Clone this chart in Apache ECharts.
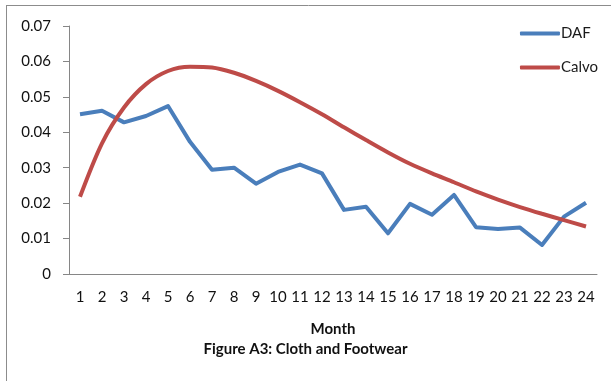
<!DOCTYPE html>
<html>
<head>
<meta charset="utf-8">
<script src="https://cdn.jsdelivr.net/npm/echarts@6/dist/echarts.min.js"></script>
<style>
  html, body { margin: 0; padding: 0; background: #fff; }
  #chart { width: 611px; height: 381px; }
</style>
</head>
<body>
<div id="chart"></div>
<script>
// Months on the x axis
const months = ['1','2','3','4','5','6','7','8','9','10','11','12',
                '13','14','15','16','17','18','19','20','21','22','23','24'];

// DAF estimates per month
const dafValues = [0.0451, 0.0461, 0.0428, 0.0446, 0.0474, 0.0373, 0.0294, 0.0300,
                   0.0255, 0.0288, 0.0309, 0.0284, 0.0181, 0.0190, 0.0115, 0.0198,
                   0.0167, 0.0223, 0.0132, 0.0127, 0.0131, 0.0082, 0.0162, 0.0201];

// Calvo estimates per month
const calvoValues = [0.0218, 0.0369, 0.0470, 0.0536, 0.0573, 0.0585, 0.0583, 0.0568,
                     0.0545, 0.0517, 0.0485, 0.0451, 0.0414, 0.0378, 0.0343, 0.0311,
                     0.0284, 0.0259, 0.0233, 0.0210, 0.0189, 0.0170, 0.0152, 0.0134];

// Y axis tick labels
const yTickLabels = ['0', '0.01', '0.02', '0.03', '0.04', '0.05', '0.06', '0.07'];

const FONT = 'Lato, "Open Sans", sans-serif';
const chart = echarts.init(document.getElementById('chart'), null, { renderer: 'canvas' });

chart.setOption({
  animation: false,
  backgroundColor: '#ffffff',
  grid: { left: 69, top: 26, width: 528, height: 248, containLabel: false },
  legend: {
    right: 8, top: 21,
    orient: 'vertical',
    itemWidth: 40, itemHeight: 4, itemGap: 19,
    icon: 'roundRect',
    textStyle: { fontFamily: FONT, fontSize: 15, color: '#1a1a1a', padding: [0, 0, 0, -4] },
    data: ['DAF', 'Calvo']
  },
  xAxis: {
    type: 'category',
    data: months,
    boundaryGap: true,
    name: 'Month',
    nameLocation: 'middle',
    nameGap: 48,
    nameTextStyle: { fontFamily: FONT, fontSize: 15, fontWeight: 'bold', color: '#111' },
    axisLine: { lineStyle: { color: '#868686', width: 1 } },
    axisTick: { show: false },
    axisLabel: { fontFamily: FONT, fontSize: 15, color: '#111', margin: 16, interval: 0 },
    splitLine: { show: false }
  },
  yAxis: {
    type: 'value',
    min: 0, max: 0.07, interval: 0.01,
    axisLine: { show: true, lineStyle: { color: '#868686', width: 1 } },
    axisTick: { show: true, length: 6, lineStyle: { color: '#868686' } },
    axisLabel: {
      fontFamily: FONT, fontSize: 15, color: '#111', margin: 18,
      formatter: (v) => yTickLabels[Math.round(v * 100)]
    },
    splitLine: { show: false }
  },
  series: [
    {
      name: 'DAF', type: 'line', data: dafValues,
      symbol: 'none', smooth: false,
      lineStyle: { color: '#4a7ebb', width: 4, join: 'round' },
      itemStyle: { color: '#4a7ebb' }
    },
    {
      name: 'Calvo', type: 'line', data: calvoValues,
      symbol: 'none', smooth: 0.3,
      lineStyle: { color: '#be4b48', width: 4 },
      itemStyle: { color: '#be4b48' }
    }
  ],
  graphic: [
    // frame edges
    { type: 'line', shape: { x1: 6.5, y1: 5, x2: 6.5, y2: 381 }, style: { stroke: '#8c8c8c', lineWidth: 1 } },
    { type: 'line', shape: { x1: 6, y1: 5.5, x2: 611, y2: 5.5 }, style: { stroke: '#8c8c8c', lineWidth: 1 } },
    // figure caption
    {
      type: 'text', left: 'center', top: 342,
      style: { text: 'Figure A3: Cloth and Footwear', font: 'bold 15px ' + FONT, fill: '#111' }
    }
  ]
});
</script>
</body>
</html>
